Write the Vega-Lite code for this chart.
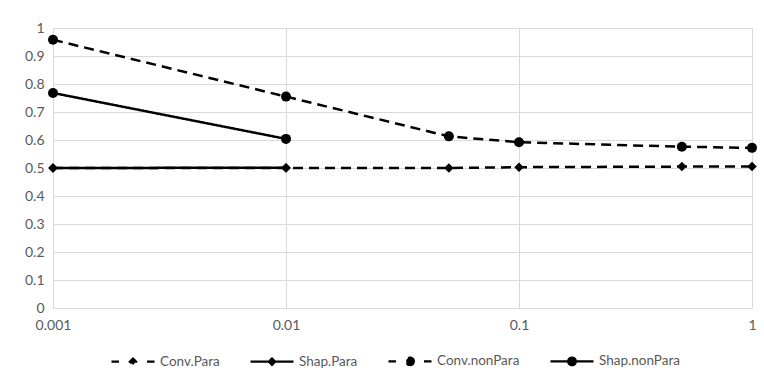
{
  "$schema": "https://vega.github.io/schema/vega-lite/v6.json",
  "autosize": {"type": "none"},
  "width": 699,
  "height": 280,
  "padding": {"left": 53, "top": 28, "right": 12, "bottom": 72},
  "background": "white",
  "config": {
    "view": {"stroke": null},
    "font": "Lato",
    "axis": {
      "labelFont": "Lato",
      "labelFontSize": 14,
      "labelColor": "#595959",
      "gridColor": "#d9d9d9",
      "gridWidth": 1,
      "domain": false,
      "ticks": false,
      "title": null
    },
    "legend": {
      "labelFont": "Lato",
      "labelFontSize": 13.5,
      "labelColor": "#595959"
    }
  },
  "data": {
    "values": [
      {"series": "Conv.Para", "x": 0.001, "y": 0.5},
      {"series": "Conv.Para", "x": 0.01, "y": 0.5},
      {"series": "Conv.Para", "x": 0.05, "y": 0.5},
      {"series": "Conv.Para", "x": 0.1, "y": 0.503},
      {"series": "Conv.Para", "x": 0.5, "y": 0.505},
      {"series": "Conv.Para", "x": 1, "y": 0.505},
      {"series": "Shap.Para", "x": 0.001, "y": 0.5},
      {"series": "Shap.Para", "x": 0.01, "y": 0.501},
      {"series": "Conv.nonPara", "x": 0.001, "y": 0.958},
      {"series": "Conv.nonPara", "x": 0.01, "y": 0.755},
      {"series": "Conv.nonPara", "x": 0.05, "y": 0.613},
      {"series": "Conv.nonPara", "x": 0.1, "y": 0.592},
      {"series": "Conv.nonPara", "x": 0.5, "y": 0.576},
      {"series": "Conv.nonPara", "x": 1, "y": 0.572},
      {"series": "Shap.nonPara", "x": 0.001, "y": 0.768},
      {"series": "Shap.nonPara", "x": 0.01, "y": 0.604}
    ]
  },
  "encoding": {
    "x": {
      "field": "x",
      "type": "quantitative",
      "scale": {"type": "log", "domain": [0.001, 1], "nice": false},
      "axis": {"values": [0.001, 0.01, 0.1, 1], "format": "~g", "labelPadding": 10, "labelFlush": false}
    },
    "y": {
      "field": "y",
      "type": "quantitative",
      "scale": {"domain": [0, 1], "nice": false},
      "axis": {"values": [0, 0.1, 0.2, 0.3, 0.4, 0.5, 0.6, 0.7, 0.8, 0.9, 1], "format": "~g", "labelPadding": 9}
    }
  },
  "layer": [
    {
      "mark": {"type": "line", "interpolate": "linear", "color": "black", "strokeWidth": 2.5},
      "encoding": {
        "strokeDash": {
          "field": "series",
          "type": "nominal",
          "scale": {
            "domain": ["Conv.Para", "Shap.Para", "Conv.nonPara", "Shap.nonPara"],
            "range": [[10, 6], [1, 0], [10, 6], [1, 0]]
          },
          "legend": {
            "title": null,
            "orient": "none",
            "direction": "horizontal",
            "legendX": 57,
            "legendY": 310,
            "symbolSize": 1849,
            "symbolStrokeWidth": 2.2,
            "symbolStrokeColor": "black",
            "symbolFillColor": "black",
            "symbolDash": [1, 0],
            "labelOffset": 4,
            "columnPadding": 26,
            "encode": {
              "symbols": {
                "update": {
                  "shape": [
                    {"test": "datum.value === 'Conv.Para'", "value": "M-1,0H-0.65M-0.15,0L0,-0.15L0.15,0L0,0.15ZM0.65,0H1"},
                    {"test": "datum.value === 'Shap.Para'", "value": "M-1,0H1M-0.15,0L0,-0.15L0.15,0L0,0.15Z"},
                    {"test": "datum.value === 'Conv.nonPara'", "value": "M-1,0H-0.65M0.18,0A0.18,0.18,0,1,1,-0.18,0A0.18,0.18,0,1,1,0.18,0ZM0.65,0H1"},
                    {"value": "M-1,0H1M0.18,0A0.18,0.18,0,1,1,-0.18,0A0.18,0.18,0,1,1,0.18,0Z"}
                  ],
                  "strokeDash": {"value": [1, 0]},
                  "stroke": {"value": "black"},
                  "fill": {"value": "black"},
                  "strokeWidth": {"value": 2.2}
                }
              }
            }
          }
        }
      }
    },
    {
      "transform": [{"filter": "datum.series === 'Conv.Para' || datum.series === 'Shap.Para'"}],
      "mark": {"type": "point", "shape": "diamond", "filled": true, "color": "black", "size": 90, "opacity": 1}
    },
    {
      "transform": [{"filter": "datum.series === 'Conv.nonPara' || datum.series === 'Shap.nonPara'"}],
      "mark": {"type": "point", "shape": "circle", "filled": true, "color": "black", "size": 100, "opacity": 1}
    }
  ]
}
